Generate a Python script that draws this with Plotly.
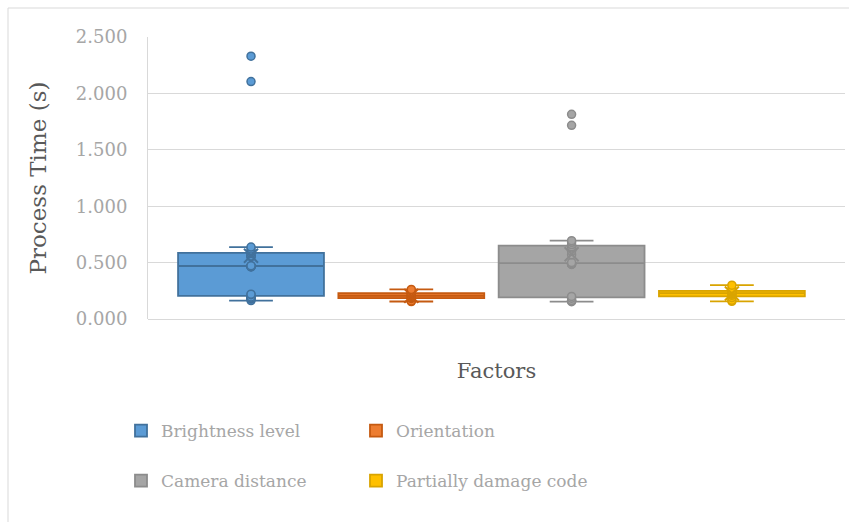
import numpy as np
import plotly.graph_objects as go

# ---- data ----
categories = ["Brightness level", "Orientation", "Camera distance", "Partially damage code"]

brightness_level = [0.163, 0.178, 0.182, 0.184, 0.186, 0.195, 0.215, 0.220,
                    0.462, 0.464, 0.466, 0.470, 0.470, 0.472,
                    0.552, 0.555, 0.558, 0.580, 0.594, 0.600, 0.620, 0.638,
                    2.105, 2.330]
orientation = [0.155, 0.160, 0.182, 0.188, 0.195, 0.200, 0.210, 0.215,
               0.225, 0.232, 0.237, 0.262]
camera_distance = [0.154, 0.160, 0.163, 0.165, 0.185, 0.200,
                   0.484, 0.486, 0.488, 0.490, 0.500,
                   0.570, 0.600, 0.630, 0.640, 0.660, 0.680, 0.694,
                   1.717, 1.815]
partially_damage = [0.157, 0.166, 0.190, 0.210, 0.220, 0.225, 0.235, 0.240,
                    0.245, 0.255, 0.270, 0.300]

series = [brightness_level, orientation, camera_distance, partially_damage]
y_tick_values = [0.0, 0.5, 1.0, 1.5, 2.0, 2.5]

fill_colors = ["#5B9BD5", "#ED7D31", "#A5A5A5", "#FFC000"]
line_colors = ["#41719C", "#C55A11", "#8C8C8C", "#D9A400"]
legend_ids = ["legend", "legend", "legend2", "legend2"]

FONT = "DejaVu Serif"
TICK_GREY = "#A6A6A6"
TITLE_GREY = "#595959"
GRID = "#D9D9D9"

fig = go.Figure()
for cat, vals, fc, lc, lg in zip(categories, series, fill_colors, line_colors, legend_ids):
    fig.add_trace(go.Box(
        x=[cat] * len(vals), y=vals, name=cat,
        boxpoints="all", jitter=0, pointpos=0,
        quartilemethod="exclusive",
        fillcolor=fc, line=dict(color=lc, width=1.8),
        marker=dict(color=fc, size=8, line=dict(color=lc, width=1.5)),
        whiskerwidth=0.3, width=0.91,
        legend=lg, hoverinfo="y",
    ))
for cat, vals, lc in zip(categories, series, line_colors):
    fig.add_trace(go.Scatter(
        x=[cat], y=[float(np.mean(vals))], mode="markers", showlegend=False,
        marker=dict(symbol="x-thin-open", size=14, color=lc, line=dict(color=lc, width=2)),
        hoverinfo="y",
    ))

L, R, T, B = 148, 4, 37, 203
W, H = 849, 522
pw, ph = W - L - R, H - T - B

fig.update_layout(
    width=W, height=H,
    margin=dict(l=L, r=R, t=T, b=B, autoexpand=False),
    paper_bgcolor="white", plot_bgcolor="white",
    boxmode="overlay",
    font=dict(family=FONT, color=TICK_GREY),
    legend=dict(orientation="h", x=(121 - L) / pw, xanchor="left",
                y=(T + ph - 431) / ph, yanchor="middle",
                font=dict(family=FONT, size=17, color=TICK_GREY),
                entrywidth=190, entrywidthmode="pixels", bgcolor="rgba(0,0,0,0)"),
    legend2=dict(orientation="h", x=(121 - L) / pw, xanchor="left",
                 y=(T + ph - 481) / ph, yanchor="middle",
                 font=dict(family=FONT, size=17, color=TICK_GREY),
                 entrywidth=190, entrywidthmode="pixels", bgcolor="rgba(0,0,0,0)"),
    xaxis=dict(type="category", categoryorder="array", categoryarray=categories,
               range=[-0.6426, 3.7056], showticklabels=False, showgrid=False,
               zeroline=False, showline=False,
               title=dict(text="Factors", font=dict(family=FONT, size=21, color=TITLE_GREY),
                          standoff=44)),
    yaxis=dict(range=[0, 2.5], tickvals=y_tick_values, tickformat=".3f",
               showgrid=True, gridcolor=GRID, gridwidth=1,
               zeroline=True, zerolinecolor=GRID, zerolinewidth=1,
               showline=True, linecolor=GRID, linewidth=1,
               ticklabelstandoff=16,
               tickfont=dict(family=FONT, size=18, color=TICK_GREY),
               title=dict(text="Process Time (s)", font=dict(family=FONT, size=23, color=TITLE_GREY),
                          standoff=22)),
    shapes=[dict(type="rect", xref="paper", yref="paper",
                 x0=(8 - L) / pw, x1=(W + 6 - L) / pw,
                 y0=(T + ph - (H + 6)) / ph, y1=(T + ph - 8) / ph,
                 line=dict(color=GRID, width=1), fillcolor="rgba(0,0,0,0)", layer="below")],
)

fig.write_html("out.html", config={"displayModeBar": False},
               post_script="document.body.style.margin='0px';document.body.style.overflow='hidden';")
